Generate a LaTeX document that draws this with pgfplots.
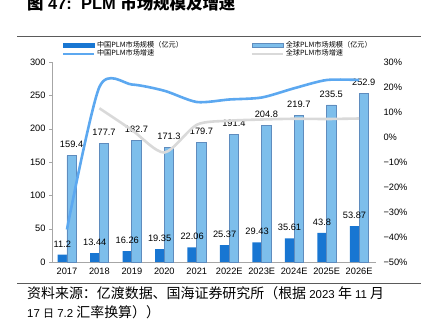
\documentclass[border=0pt]{standalone}
\usepackage{pgfplots}
\pgfplotsset{compat=1.18}
\usepackage{fontspec}
\setmainfont{Liberation Sans}
\newfontfamily\cjk{Noto Sans CJK SC}
\definecolor{cbar}{RGB}{24,118,210}
\definecolor{gbar}{RGB}{125,190,235}
\definecolor{gedge}{RGB}{95,140,190}
\definecolor{cline}{RGB}{92,168,240}
\definecolor{gline}{RGB}{217,217,217}
\definecolor{axgray}{RGB}{166,166,166}
\definecolor{rule}{RGB}{90,90,90}
\pgfplotstableread{
x china global
0 11.2 159.4
1 13.44 177.7
2 16.26 182.7
3 19.35 171.3
4 22.06 179.7
5 25.37 191.4
6 29.43 204.8
7 35.61 219.7
8 43.8 235.5
9 53.87 252.9
}\sizes
\pgfplotstableread{
x g
0 -37
1 20
2 21
3 18.5
4 14
5 15
6 15.8
7 19.5
8 22.8
9 22.8
}\cgrowth
\pgfplotstableread{
x g
1 11.5
2 2.8
3 -6.2
4 4.9
5 6.5
6 7.0
7 7.3
8 7.2
9 7.4
}\ggrowth
\begin{document}
\begin{tikzpicture}[x=1bp,y=1bp]
\path[use as bounding box] (0,0) rectangle (421,331);
\node[anchor=base west, inner sep=0, font=\bfseries\fontsize{16.5}{16.5}\selectfont] at (27,321.5) {{\cjk 图}\ 47:\ \ PLM\ {\cjk 市场规模及增速}};
\draw[rule, line width=0.8bp] (17,295) -- (421,295);
\draw[rule, line width=0.8bp] (17,48) -- (421,48);
\node[anchor=base west, inner sep=0, font=\fontsize{11.5}{12}\selectfont] at (27,32.5) {{\cjk\fontsize{14}{14}\selectfont 资料来源：亿渡数据、国海证券研究所（根据}\ 2023\ {\cjk\fontsize{14}{14}\selectfont 年}\ 11\ {\cjk\fontsize{14}{14}\selectfont 月}};
\node[anchor=base west, inner sep=0, font=\fontsize{11.5}{12}\selectfont] at (27,13.5) {17\ {\cjk\fontsize{11}{11}\selectfont 日}\ 7.2\ {\cjk\fontsize{14}{14}\selectfont 汇率换算））}};
\begin{axis}[
  at={(52bp,69bp)}, anchor=south west, scale only axis,
  width=324bp, height=200bp,
  xmin=-0.46, xmax=9.52, ymin=0, ymax=300,
  axis x line*=bottom, axis y line*=left,
  axis line style={axgray},
  ytick={0,50,...,300},
  xtick={0,...,9},
  xticklabels={2017,2018,2019,2020,2021,2022E,2023E,2024E,2025E,2026E},
  major x tick style={draw=none},
  extra x ticks={0.5,1.5,...,8.5,9.5},
  extra x tick labels={},
  extra x tick style={tick style={axgray}, tick align=outside, major tick length=3bp},
  ytick style={axgray}, tick align=outside, major tick length=3bp,
  tick label style={font=\fontsize{9.3}{10}\selectfont},
  /pgf/number format/assume math mode=true,
  ybar, bar width=9.3bp,
  nodes near coords,
  every node near coord/.append style={font=\fontsize{9.3}{10}\selectfont, yshift=4bp},
  clip=false,
]
\addplot[fill=cbar, draw=none, bar shift=-4.65bp] table[x=x, y=china] {\sizes};
\addplot[fill=gbar, draw=gedge, line width=0.8bp, bar shift=4.65bp] table[x=x, y=global] {\sizes};
\end{axis}
\begin{axis}[
  at={(52bp,69bp)}, anchor=south west, scale only axis,
  width=324bp, height=200bp,
  xmin=-0.46, xmax=9.52, ymin=-50, ymax=30,
  axis x line=none, axis y line*=right,
  y axis line style={draw=none},
  ytick={-50,-40,...,30},
  yticklabels={−50\%,−40\%,−30\%,−20\%,−10\%,0\%,10\%,20\%,30\%},
  major tick length=0pt,
  yticklabel style={anchor=west, xshift=4bp},
  tick label style={font=\fontsize{9.3}{10}\selectfont},
  legend columns=2,
  legend style={at={(0.031,1.115)}, anchor=north west, draw=none, fill=none,
    inner sep=0pt, font=\cjk\fontsize{7.2}{7.4}\selectfont,
    row sep=-3bp,
    /tikz/every even column/.append style={column sep=66bp}},
  legend cell align=left,
  clip=false,
]
\addlegendimage{legend image code/.code={\fill[cbar] (0bp,-2bp) rectangle (31bp,2bp);}}
\addlegendentry{中国PLM市场规模（亿元）}
\addlegendimage{legend image code/.code={\draw[fill=gbar, draw=gedge, line width=0.6bp] (0bp,-2bp) rectangle (31bp,2bp);}}
\addlegendentry{全球PLM市场规模（亿元）}
\addplot[cline, line width=2.6bp, smooth, tension=0.45, no markers, legend image code/.code={\draw[cline, line width=1.8bp] (0bp,0bp) -- (31bp,0bp);}] table[x=x, y=g] {\cgrowth};
\addlegendentry{中国PLM市场增速}
\addplot[gline, line width=2.6bp, smooth, tension=0.45, no markers, legend image code/.code={\draw[gline, line width=1.8bp] (0bp,0bp) -- (31bp,0bp);}] table[x=x, y=g] {\ggrowth};
\addlegendentry{全球PLM市场增速}
\end{axis}
\end{tikzpicture}
\end{document}
